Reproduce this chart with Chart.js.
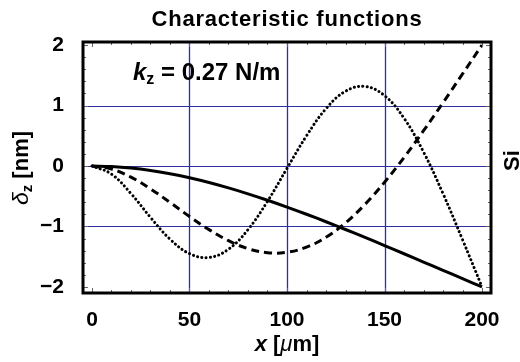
<!DOCTYPE html>
<html>
<head>
<meta charset="utf-8">
<script src="https://cdn.jsdelivr.net/npm/chart.js@4.4.0/dist/chart.umd.min.js"></script>
<style>
  html, body { margin: 0; padding: 0; background: #fff; }
  #wrap { width: 520px; height: 362px; }
</style>
</head>
<body>
<div id="wrap"><canvas id="chart" width="520" height="362"></canvas></div>
<script>
// positions along the beam (µm) and the three characteristic functions (nm)
const xPos = [0, 10, 20, 30, 40, 50, 60, 70, 80, 90, 100, 110, 120, 130, 140, 150, 160, 170, 180, 190, 200];
const mode1 = [0, -0.009, -0.034, -0.074, -0.128, -0.195, -0.273, -0.362, -0.460, -0.566, -0.679, -0.798, -0.922, -1.050, -1.182, -1.315, -1.451, -1.588, -1.725, -1.862, -2.0];
const mode2 = [0, -0.051, -0.185, -0.378, -0.602, -0.835, -1.052, -1.235, -1.367, -1.434, -1.427, -1.342, -1.179, -0.940, -0.634, -0.270, 0.140, 0.583, 1.047, 1.522, 2.0];
const mode3 = [0, -0.134, -0.456, -0.850, -1.209, -1.449, -1.512, -1.376, -1.052, -0.584, -0.039, 0.498, 0.948, 1.236, 1.315, 1.163, 0.790, 0.232, -0.457, -1.217, -2.0];

const xTicks = [0, 50, 100, 150, 200];
const yTicks = [-2, -1, 0, 1, 2];
const xGrid = [50, 100, 150];
const yGrid = [-1, 0, 1];

const FONT = "'Liberation Sans', Arial, Helvetica, sans-serif";

const pts = ys => xPos.map((x, i) => ({ x: x, y: ys[i] }));

// grid lines drawn once each, under the curves
const grid = {
  id: 'gridLines',
  beforeDatasetsDraw(chart) {
    const ctx = chart.ctx;
    const a = chart.chartArea;
    ctx.save();
    ctx.strokeStyle = '#2a2ab8';
    ctx.lineWidth = 1.3;
    ctx.beginPath();
    xGrid.forEach(v => {
      const px = Math.round(chart.scales.x.getPixelForValue(v)) + 0.5;
      ctx.moveTo(px, a.top); ctx.lineTo(px, a.bottom);
    });
    ctx.stroke();
    ctx.strokeStyle = '#30309e';
    ctx.lineWidth = 1;
    ctx.beginPath();
    yGrid.forEach(v => {
      const py = Math.round(chart.scales.y.getPixelForValue(v)) + 0.5;
      ctx.moveTo(a.left, py); ctx.lineTo(a.right, py);
    });
    ctx.stroke();
    ctx.restore();
  }
};

const frame = {
  id: 'frame',
  afterDraw(chart) {
    const ctx = chart.ctx;
    const a = chart.chartArea;
    const sx = chart.scales.x, sy = chart.scales.y;
    ctx.save();

    // inner ticks on all four sides
    ctx.strokeStyle = '#666';
    ctx.lineWidth = 1;
    ctx.beginPath();
    for (let v = 0; v <= 200; v += 10) {
      const px = Math.round(sx.getPixelForValue(v)) + 0.5;
      const len = v % 50 === 0 ? 5 : 3;
      ctx.moveTo(px, a.bottom); ctx.lineTo(px, a.bottom - len);
      ctx.moveTo(px, a.top); ctx.lineTo(px, a.top + len);
    }
    for (let k = -10; k <= 10; k++) {
      const v = k / 5;
      const py = Math.round(sy.getPixelForValue(v)) + 0.5;
      const len = k % 5 === 0 ? 5 : 3;
      ctx.moveTo(a.left, py); ctx.lineTo(a.left + len, py);
      ctx.moveTo(a.right, py); ctx.lineTo(a.right - len, py);
    }
    ctx.stroke();

    // frame
    ctx.strokeStyle = '#000';
    ctx.lineWidth = 3;
    ctx.strokeRect(a.left, a.top, a.right - a.left, a.bottom - a.top);

    ctx.fillStyle = '#000';
    ctx.textBaseline = 'alphabetic';

    // title
    ctx.font = 'bold 22px ' + FONT;
    ctx.letterSpacing = '0.8px';
    ctx.textAlign = 'center';
    ctx.fillText('Characteristic functions', (a.left + a.right) / 2, 26);
    ctx.letterSpacing = '0px';

    // k_z annotation
    ctx.textAlign = 'left';
    let x = 133;
    ctx.font = 'italic bold 24px ' + FONT;
    ctx.fillText('k', x, 80);
    x += ctx.measureText('k').width;
    ctx.font = 'bold 16px ' + FONT;
    ctx.fillText('z', x, 84);
    x += ctx.measureText('z').width;
    ctx.font = 'bold 24px ' + FONT;
    ctx.fillText(' = 0.27 N/m', x, 80);

    // x axis title
    const parts = [
      ['x', 'italic bold 22px ' + FONT],
      [' [', 'bold 22px ' + FONT],
      ['\u03bc', 'italic 22px ' + FONT],
      ['m]', 'bold 22px ' + FONT]
    ];
    let w = 0;
    parts.forEach(p => { ctx.font = p[1]; w += ctx.measureText(p[0]).width; });
    x = (a.left + a.right) / 2 - w / 2;
    parts.forEach(p => { ctx.font = p[1]; ctx.fillText(p[0], x, 351); x += ctx.measureText(p[0]).width; });

    // y axis title, rotated
    ctx.save();
    ctx.translate(28, 168);
    ctx.rotate(-Math.PI / 2);
    const yparts = [
      ['\u03b4', 'italic 23px ' + FONT, 0],
      ['z', 'bold 15px ' + FONT, 4],
      [' [nm]', 'bold 22px ' + FONT, 0]
    ];
    w = 0;
    yparts.forEach(p => { ctx.font = p[1]; w += ctx.measureText(p[0]).width; });
    x = -w / 2;
    yparts.forEach(p => { ctx.font = p[1]; ctx.fillText(p[0], x, p[2]); x += ctx.measureText(p[0]).width; });
    ctx.restore();

    // clipped label of the neighbouring panel
    ctx.save();
    ctx.translate(519, 171);
    ctx.rotate(-Math.PI / 2);
    ctx.font = 'bold 22px ' + FONT;
    ctx.textAlign = 'left';
    ctx.fillText('Si', 0, 0);
    ctx.restore();

    ctx.restore();
  }
};

new Chart(document.getElementById('chart'), {
  type: 'scatter',
  data: {
    datasets: [
      { data: pts(mode1), showLine: true, borderColor: '#000', borderWidth: 3, pointRadius: 0, tension: 0.4 },
      { data: pts(mode2), showLine: true, borderColor: '#000', borderWidth: 3, pointRadius: 0, tension: 0.4, borderDash: [8, 5] },
      { data: pts(mode3), showLine: true, borderColor: '#000', borderWidth: 3, pointRadius: 0, tension: 0.4, borderDash: [0.1, 4.2], borderCapStyle: 'round' }
    ]
  },
  options: {
    responsive: false,
    animation: false,
    devicePixelRatio: 1,
    layout: { padding: { top: 42, right: 29, left: 0, bottom: 0 } },
    plugins: { legend: { display: false }, tooltip: { enabled: false }, title: { display: false } },
    scales: {
      x: {
        type: 'linear', min: -4.6, max: 204.6,
        afterBuildTicks: s => { s.ticks = xTicks.map(v => ({ value: v })); },
        afterFit: s => { s.height = 69; },
        border: { display: false },
        grid: { display: false },
        ticks: { color: '#000', padding: 7, font: { family: FONT, size: 21, weight: 'bold' }, maxRotation: 0, callback: v => String(v) }
      },
      y: {
        type: 'linear', min: -2.1, max: 2.05,
        afterBuildTicks: s => { s.ticks = yTicks.map(v => ({ value: v })); },
        afterFit: s => { s.width = 83; },
        border: { display: false },
        grid: { display: false },
        ticks: { color: '#000', padding: 11, font: { family: FONT, size: 21, weight: 'bold' }, callback: v => String(v).replace('-', '\u2212') }
      }
    }
  },
  plugins: [grid, frame]
});
</script>
</body>
</html>
